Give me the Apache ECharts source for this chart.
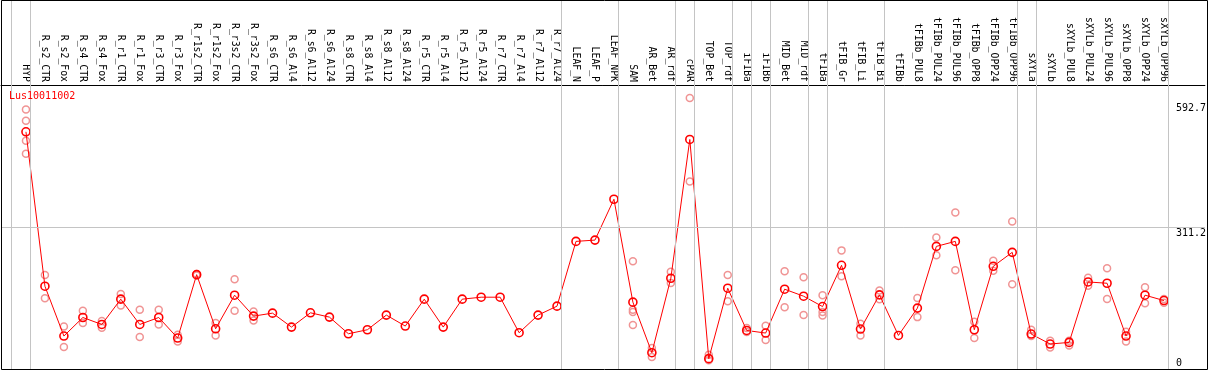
<!DOCTYPE html>
<html>
<head>
<meta charset="utf-8">
<script src="https://cdn.jsdelivr.net/npm/echarts@6/dist/echarts.min.js"></script>
<style>
  html, body { margin: 0; padding: 0; background: #fff; }
  #chart { width: 1209px; height: 370px; }
</style>
</head>
<body>
<div id="chart"></div>
<script>
const geneName = 'Lus10011002';

const categories = [
  'HYP', 'R_s2_CTR', 'R_s2_Fox', 'R_s4_CTR', 'R_s4_Fox', 'R_r1_CTR', 'R_r1_Fox', 'R_r3_CTR', 'R_r3_Fox',
  'R_r1s2_CTR', 'R_r1s2_Fox', 'R_r3s2_CTR', 'R_r3s2_Fox', 'R_s6_CTR', 'R_s6_Al4', 'R_s6_Al12', 'R_s6_Al24',
  'R_s8_CTR', 'R_s8_Al4', 'R_s8_Al12', 'R_s8_Al24', 'R_r5_CTR', 'R_r5_Al4', 'R_r5_Al12', 'R_r5_Al24',
  'R_r7_CTR', 'R_r7_Al4', 'R_r7_Al12', 'R_r7_Al24', 'LEAF_N', 'LEAF_P', 'LEAF_NPK', 'SAM', 'AR_Bet', 'AR_rdf',
  'cPAR', 'TOP_Bet', 'TOP_rdf', 'iFIBa', 'iFIBb', 'MID_Bet', 'MID_rdf', 'tFIBa', 'tFIB_Gr', 'tFIB_Li', 'tFIB_Bi',
  'tFIBb', 'tFIBb_PUL8', 'tFIBb_PUL24', 'tFIBb_PUL96', 'tFIBb_OPP8', 'tFIBb_OPP24', 'tFIBb_OPP96',
  'sXYLa', 'sXYLb', 'sXYLb_PUL8', 'sXYLb_PUL24', 'sXYLb_PUL96', 'sXYLb_OPP8', 'sXYLb_OPP24', 'sXYLb_OPP96'
];

const meanValues = [
  518.9, 182.5, 74.0, 114.4, 99.2, 154.3, 99.2, 114.4, 69.6,
  207.7, 89.8, 163.0, 117.4, 123.9, 93.5, 124.6, 115.2,
  79.0, 87.7, 119.6, 95.7, 154.3, 93.5, 154.3, 158.6,
  158.6, 81.2, 119.6, 139.1, 280.2, 283.0, 372.0, 147.8, 37.7, 199.9,
  502.2, 24.7, 178.2, 86.1, 80.5, 176.0, 160.8, 138.2, 228.1, 89.2, 163.6,
  75.3, 134.8, 269.3, 280.2, 87.7, 225.9, 256.3,
  78.3, 56.6, 60.1, 191.8, 189.0, 74.0, 163.0, 151.3
];

const replicateValues = [
  [567.3, 542.8, 499.4, 471.2], [207.0, 156.5], [94.8, 50.1], [128.9, 102.2], [106.5, 92.0],
  [165.8, 140.4], [131.1, 71.8], [131.1, 99.2], [76.8, 62.3],
  [209.0, 206.0], [102.2, 75.3], [197.7, 128.9], [127.4, 107.8], [], [], [], [],
  [], [], [], [], [], [], [], [],
  [], [], [], [], [], [], [], [236.8, 131.1, 126.1, 97.9], [47.9, 28.4], [214.2, 189.7],
  [592.7, 410.4], [33.4, 21.0], [207.0, 149.9], [91.4, 82.7], [96.3, 65.3], [215.1, 136.9], [202.0, 119.6],
  [163.0, 126.1, 118.7], [260.6, 204.2], [100.7, 75.3], [173.0, 154.3],
  [], [157.1, 115.2], [288.9, 249.8], [343.1, 217.2], [105.0, 69.6], [238.1, 216.4], [323.6, 186.8],
  [87.7, 74.0], [63.8, 49.2], [63.8, 53.6], [201.2, 183.8], [221.6, 154.9], [83.3, 62.3], [180.3, 145.6], [154.9, 146.3]
];

// index of the last category of each group (separator drawn after it)
const groupEnds = [-1, 0, 28, 31, 34, 35, 37, 38, 39, 41, 42, 45, 52, 53, 60];

const yTickLabels = [0, 311.2, 592.7];
const referenceLineValue = 311.2;

const FONT = '"DejaVu Sans Mono", "Liberation Mono", monospace';

const lineData = meanValues.map((v, i) => [i, v]);
const repData = [];
replicateValues.forEach((reps, i) => reps.forEach(v => repData.push([i, v])));

const chart = echarts.init(document.getElementById('chart'), null, { renderer: 'canvas' });

const option = {
  animation: false,
  backgroundColor: '#fff',
  title: {
    text: geneName,
    left: 9,
    top: 91,
    padding: 0,
    textStyle: { color: '#ff0000', fontSize: 10, fontWeight: 'normal', fontFamily: FONT }
  },
  grid: { left: 1, right: 2, top: 0, bottom: -1.39, containLabel: false },
  xAxis: {
    type: 'value',
    position: 'top',
    offset: -85,
    min: -1.316,
    max: 62.158,
    axisLine: { show: true, onZero: false, lineStyle: { color: '#000', width: 1 } },
    axisTick: { show: false },
    splitLine: { show: false },
    axisLabel: {
      customValues: categories.map((_, i) => i),
      rotate: 90,
      margin: 3,
      color: '#000',
      fontSize: 9.8,
      fontFamily: FONT,
      formatter: v => categories[Math.round(v)] || ''
    }
  },
  yAxis: {
    type: 'value',
    position: 'right',
    min: 0,
    max: 806.06,
    axisLine: { show: false },
    axisTick: { show: false },
    splitLine: { show: false },
    axisLabel: {
      customValues: yTickLabels,
      inside: true,
      margin: 29,
      align: 'left',
      color: '#000',
      fontSize: 10,
      fontFamily: FONT,
      formatter: v => {
        const s = String(v);
        if (v === yTickLabels[0]) return '{lo|' + s + '}';
        if (v === yTickLabels[1]) return '{mid|' + s + '}';
        return '{hi|' + s + '}';
      },
      rich: {
        lo: { padding: [0, 0, 13, 0], fontSize: 10, fontFamily: FONT, color: '#000' },
        mid: { padding: [13, 0, 0, 0], fontSize: 10, fontFamily: FONT, color: '#000' },
        hi: { padding: [20, 0, 0, 0], fontSize: 10, fontFamily: FONT, color: '#000' }
      }
    }
  },
  series: [
    {
      name: 'replicates',
      type: 'scatter',
      data: repData,
      symbol: 'circle',
      symbolSize: 7,
      z: 2,
      silent: true,
      itemStyle: { color: 'rgba(0,0,0,0)', borderColor: '#f09494', borderWidth: 1.5, opacity: 1 },
      markLine: {
        silent: true,
        symbol: ['none', 'none'],
        label: { show: false },
        lineStyle: { color: '#c4c4c4', width: 1, type: 'solid' },
        emphasis: { disabled: true },
        data: groupEnds.map(e => ({ xAxis: e + 0.237 })).concat([{ yAxis: referenceLineValue }])
      }
    },
    {
      name: geneName,
      type: 'line',
      data: lineData,
      symbol: 'circle',
      symbolSize: 8,
      showAllSymbol: true,
      z: 3,
      silent: true,
      lineStyle: { color: '#ff0000', width: 1 },
      itemStyle: { color: 'rgba(0,0,0,0)', borderColor: '#ff0000', borderWidth: 1.6 }
    }
  ],
  graphic: [
    {
      type: 'rect',
      z: 100,
      silent: true,
      shape: { x: 1.5, y: 0.5, width: 1206, height: 369 },
      style: { fill: 'none', stroke: '#000', lineWidth: 1 }
    }
  ]
};

chart.setOption(option);
</script>
</body>
</html>
